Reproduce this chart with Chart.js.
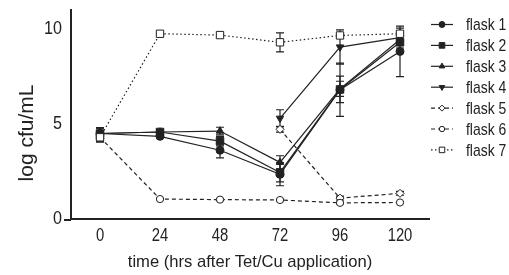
<!DOCTYPE html>
<html>
<head>
<meta charset="utf-8">
<script src="https://cdn.jsdelivr.net/npm/chart.js@4.4.0/dist/chart.umd.min.js"></script>
<style>
  html, body { margin: 0; padding: 0; background: #fff; }
  #wrap { width: 509px; height: 275px; position: relative; }
</style>
</head>
<body>
<div id="wrap"><canvas id="chart"></canvas></div>
<script>
// time points (hrs)
const times = [0, 24, 48, 72, 96, 120];
const xTicks = [0, 24, 48, 72, 96, 120];
const yTicks = [0, 5, 10];

const flask1 = [4.5, 4.35, 3.62, 2.35, 6.8, 8.82];
const flask2 = [4.5, 4.58, 4.1, 2.45, 6.82, 9.3];
const flask3 = [4.5, 4.58, 4.63, 2.98, 6.85, 9.45];
const flask4 = [4.5, null, null, 5.3, 9.05, 9.55];
const flask5 = [4.25, null, null, 4.72, 1.1, 1.35];
const flask6 = [4.3, 1.05, 1.02, 1.0, 0.85, 0.87];
const flask7 = [4.3, 9.75, 9.68, 9.3, 9.66, 9.75];

// error bars (+/-)
const err1 = [0.3, 0.1, 0.4, 0.6, 1.4, 1.33];
const err2 = [0.3, 0.1, 0.25, 0.5, 0.7, 0.3];
const err3 = [0.3, 0.1, 0.2, 0.35, 0.4, 0.3];
const err4 = [0.3, 0, 0, 0.45, 0.9, 0.3];
const err5 = [0.2, 0, 0, 0.15, 0.1, 0.1];
const err6 = [0.2, 0.05, 0.05, 0.05, 0.05, 0.05];
const err7 = [0.2, 0.05, 0.05, 0.5, 0.05, 0.3];

const labels = ['flask 1', 'flask 2', 'flask 3', 'flask 4', 'flask 5', 'flask 6', 'flask 7'];
const values = [flask1, flask2, flask3, flask4, flask5, flask6, flask7];
const errors = [err1, err2, err3, err4, err5, err6, err7];

const styles = [
  { pointStyle: 'circle', radius: 4, fill: true, dash: [], rot: 0 },
  { pointStyle: 'rect', radius: 5.3, fill: true, dash: [], rot: 0 },
  { pointStyle: 'triangle', radius: 4.3, fill: true, dash: [], rot: 0 },
  { pointStyle: 'triangle', radius: 4.3, fill: true, dash: [], rot: 180 },
  { pointStyle: 'rectRot', radius: 4, fill: false, dash: [4, 3], rot: 0 },
  { pointStyle: 'circle', radius: 3.6, fill: false, dash: [4, 3], rot: 0 },
  { pointStyle: 'rect', radius: 5.2, fill: false, dash: [1.5, 2.5], rot: 0 }
];

const ink = '#222';
const font = '"Liberation Sans", Arial, sans-serif';

// text squeezed horizontally, the figure uses a condensed face
function narrowText(ctx, text, x, y, size, squeeze, align) {
  ctx.save();
  ctx.font = size + 'px ' + font;
  ctx.textBaseline = 'middle';
  ctx.textAlign = align;
  ctx.translate(x, y);
  ctx.scale(squeeze, 1);
  ctx.fillText(text, 0, 0);
  ctx.restore();
}

const datasets = labels.map((lab, i) => ({
  label: lab,
  data: times.map((t, j) => ({ x: t, y: values[i][j] })),
  errs: errors[i],
  borderColor: ink,
  borderWidth: 1.2,
  borderDash: styles[i].dash,
  pointStyle: styles[i].pointStyle,
  pointRadius: styles[i].radius,
  pointRotation: styles[i].rot,
  pointBorderColor: ink,
  pointBorderWidth: 1,
  pointBackgroundColor: styles[i].fill ? ink : '#fff',
  spanGaps: false,
  tension: 0,
  order: 7 - i
}));

// draws error bars from the scales
const errorBars = {
  id: 'errorBars',
  beforeDatasetsDraw(chart) {
    const ctx = chart.ctx;
    const xs = chart.scales.x, ys = chart.scales.y;
    ctx.save();
    ctx.strokeStyle = ink;
    ctx.lineWidth = 1.2;
    chart.data.datasets.forEach(ds => {
      ds.data.forEach((p, j) => {
        const e = ds.errs[j];
        if (!e || p.y === null) return;
        const px = xs.getPixelForValue(p.x);
        const top = ys.getPixelForValue(p.y + e);
        const bot = ys.getPixelForValue(p.y - e);
        ctx.beginPath();
        ctx.moveTo(px, top); ctx.lineTo(px, bot);
        ctx.moveTo(px - 4, top); ctx.lineTo(px + 4, top);
        ctx.moveTo(px - 4, bot); ctx.lineTo(px + 4, bot);
        ctx.stroke();
      });
    });
    ctx.restore();
  }
};

// legend, tick labels and axis titles
const decorations = {
  id: 'decorations',
  afterDraw(chart) {
    const ctx = chart.ctx;
    const xs = chart.scales.x, ys = chart.scales.y;
    const x0 = 431, x1 = 453, tx = 466, y0 = 24.5, step = 20.9;
    ctx.save();
    chart.data.datasets.forEach((ds, i) => {
      const y = y0 + i * step;
      ctx.strokeStyle = ink;
      ctx.lineWidth = 1.2;
      ctx.setLineDash(ds.borderDash);
      ctx.beginPath();
      ctx.moveTo(x0, y); ctx.lineTo(x1, y);
      ctx.stroke();
      ctx.setLineDash([]);
      ctx.fillStyle = ds.pointBackgroundColor;
      ctx.lineWidth = 1;
      Chart.helpers.drawPoint(ctx, {
        pointStyle: ds.pointStyle,
        rotation: ds.pointRotation,
        radius: ds.pointRadius * 0.75,
        borderWidth: 1
      }, (x0 + x1) / 2, y);
      ctx.fillStyle = ink;
      narrowText(ctx, ds.label, tx, y + 1, 17, 0.82, 'left');
    });

    ctx.fillStyle = ink;
    xTicks.forEach(v => narrowText(ctx, String(v), xs.getPixelForValue(v), 236, 19, 0.78, 'center'));
    yTicks.forEach(v => narrowText(ctx, String(v), 62, ys.getPixelForValue(v), 19, 0.85, 'right'));

    // x axis line extends a bit left of the y axis
    ctx.strokeStyle = ink;
    ctx.lineWidth = 2;
    ctx.beginPath();
    ctx.moveTo(64, xs.top + 1); ctx.lineTo(xs.left, xs.top + 1);
    ctx.stroke();

    // axis titles
    ctx.textAlign = 'center';
    ctx.textBaseline = 'middle';
    ctx.font = '16.6px ' + font;
    ctx.fillText('time (hrs after Tet/Cu application)', 250, 262);
    ctx.translate(27, 133);
    ctx.rotate(-Math.PI / 2);
    ctx.font = '21px ' + font;
    ctx.fillText('log cfu/mL', 0, 0);
    ctx.restore();
  }
};

new Chart(document.getElementById('chart'), {
  type: 'line',
  data: { datasets },
  options: {
    responsive: true,
    maintainAspectRatio: false,
    animation: false,
    layout: { padding: { left: 0, right: 80, top: 10, bottom: 0 } },
    plugins: { legend: { display: false }, tooltip: { enabled: false } },
    scales: {
      x: {
        type: 'linear',
        min: -11.6,
        max: 131.6,
        afterBuildTicks: s => { s.ticks = xTicks.map(v => ({ value: v })); },
        afterFit: s => { s.height = 56; },
        grid: { display: false, drawTicks: true, tickLength: 6, tickColor: ink, tickWidth: 2 },
        border: { display: true, color: ink, width: 2 },
        ticks: { display: false }
      },
      y: {
        min: 0,
        max: 11.0,
        afterBuildTicks: s => { s.ticks = yTicks.map(v => ({ value: v })); },
        afterFit: s => { s.width = 71; },
        grid: { display: false, drawTicks: true, tickLength: 6, tickColor: ink, tickWidth: 2 },
        border: { display: true, color: ink, width: 2 },
        ticks: { display: false }
      }
    }
  },
  plugins: [errorBars, decorations]
});
</script>
</body>
</html>
